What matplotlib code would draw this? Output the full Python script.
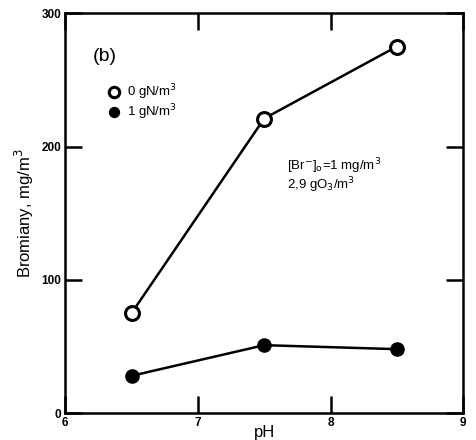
import matplotlib
matplotlib.use("Agg")
import matplotlib.pyplot as plt

plt.rcParams['font.family'] = ['Liberation Sans', 'DejaVu Sans']

ph = [6.5, 7.5, 8.5]
br_0gN = [75, 221, 275]
br_1gN = [28, 51, 48]
xticks = [6, 7, 8, 9]
yticks = [0, 100, 200, 300]

fig = plt.figure(figsize=(4.76, 4.4), dpi=100)
ax = fig.add_axes([0.137, 0.061, 0.836, 0.909])

ax.plot(ph, br_0gN, color='black', lw=1.8, marker='o', ms=10,
        mfc='white', mec='black', mew=2.2, label='0 gN/m$^3$')
ax.plot(ph, br_1gN, color='black', lw=1.8, marker='o', ms=9.5,
        mfc='black', mec='black', label='1 gN/m$^3$')

ax.set_xlim(6, 9)
ax.set_ylim(0, 300)
ax.set_xticks(xticks)
ax.set_yticks(yticks)
ax.tick_params(direction='in', length=12, width=1.8, top=True, right=True,
               labelsize=8.5, pad=3)
for lbl in ax.get_xticklabels() + ax.get_yticklabels():
    lbl.set_fontweight('bold')
for s in ax.spines.values():
    s.set_linewidth(1.8)

ax.set_xlabel('pH', fontsize=12, labelpad=-3)
ax.set_ylabel('Bromiany, mg/m$^3$', fontsize=12, labelpad=4)

ax.text(6.21, 264, '(b)', fontsize=14)
leg = ax.legend(loc='upper left', bbox_to_anchor=(0.1, 0.84), frameon=False,
                fontsize=9.5, handlelength=0.5, handletextpad=0.8,
                labelspacing=0.05, borderaxespad=0, markerscale=0.75)
for line in leg.get_lines():
    line.set_linestyle('None')
ax.text(7.67, 168, '[Br$^{-}$]$_\\mathrm{o}$=1 mg/m$^3$\n2,9 gO$_3$/m$^3$',
        fontsize=9.5, linespacing=0.95)

fig.savefig('out.png', dpi=100)
